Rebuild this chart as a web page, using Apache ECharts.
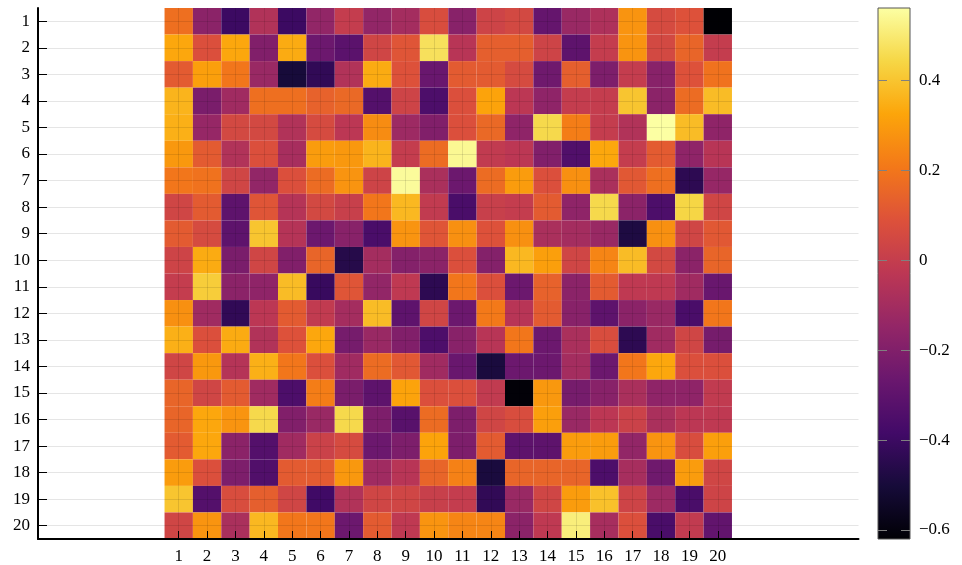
<!DOCTYPE html>
<html>
<head>
<meta charset="utf-8">
<script src="https://cdn.jsdelivr.net/npm/echarts@6/dist/echarts.min.js"></script>
<style>
  html, body { margin: 0; padding: 0; background: #fff; }
  #chart { width: 962px; height: 565px; }
</style>
</head>
<body>
<div id="chart"></div>
<script>
// heatmap columns / rows (row 1 at the top)
const cols = [1,2,3,4,5,6,7,8,9,10,11,12,13,14,15,16,17,18,19,20];
const rows = [1,2,3,4,5,6,7,8,9,10,11,12,13,14,15,16,17,18,19,20];

// cell values, one array per row
const values = [
  [0.18,-0.17,-0.40,-0.06,-0.40,-0.15,0.00,-0.15,-0.10,0.07,-0.18,0.03,0.05,-0.28,-0.13,-0.07,0.28,0.06,0.09,-0.62],
  [0.33,0.08,0.33,-0.20,0.34,-0.26,-0.31,0.04,0.10,0.47,-0.04,0.13,0.13,0.03,-0.30,0.00,0.28,0.05,0.15,0.00],
  [0.12,0.31,0.20,-0.13,-0.50,-0.43,-0.06,0.34,0.09,-0.27,0.12,0.12,0.06,-0.25,0.13,-0.21,0.00,-0.18,0.09,0.19],
  [0.36,-0.22,-0.11,0.18,0.18,0.14,0.16,-0.33,0.03,-0.35,0.08,0.32,-0.03,-0.16,0.00,0.00,0.40,-0.17,0.17,0.38],
  [0.35,-0.14,0.05,0.05,-0.06,0.06,-0.03,0.26,-0.12,-0.20,0.08,0.16,-0.16,0.45,0.22,0.00,-0.06,0.56,0.38,-0.16],
  [0.29,0.12,-0.06,0.08,-0.09,0.30,0.29,0.36,0.00,0.17,0.54,-0.01,-0.03,-0.20,-0.34,0.33,0.00,0.12,-0.16,-0.04],
  [0.20,0.19,0.04,-0.15,0.08,0.17,0.28,0.03,0.55,-0.08,-0.26,0.17,0.30,0.08,0.27,-0.08,0.11,0.18,-0.44,-0.14],
  [0.04,0.12,-0.30,0.10,-0.05,0.05,0.01,0.20,0.37,-0.01,-0.36,0.01,0.00,0.12,-0.16,0.45,-0.17,-0.35,0.44,0.04],
  [0.12,0.06,-0.30,0.40,-0.05,-0.26,-0.18,-0.36,0.28,0.10,0.27,0.09,0.27,-0.08,-0.10,-0.13,-0.48,0.27,0.04,0.11],
  [0.03,0.34,-0.22,0.04,-0.20,0.15,-0.46,-0.10,-0.19,-0.17,0.08,-0.19,0.37,0.31,0.04,0.24,0.38,0.05,-0.17,0.15],
  [0.00,0.42,-0.17,-0.16,0.38,-0.41,0.10,-0.15,-0.02,-0.44,0.20,0.08,-0.26,0.14,-0.17,0.12,-0.02,-0.02,-0.11,-0.27],
  [0.27,-0.11,-0.43,-0.03,0.12,-0.01,-0.10,0.38,-0.30,0.04,-0.26,0.21,-0.04,0.12,-0.18,-0.30,-0.17,-0.13,-0.36,0.20],
  [0.35,0.08,0.34,-0.06,0.09,0.33,-0.23,-0.13,-0.20,-0.35,-0.18,-0.04,0.20,-0.26,-0.08,0.07,-0.44,-0.11,0.04,-0.23],
  [0.04,0.29,-0.05,0.35,0.20,0.08,-0.11,0.17,0.11,-0.11,-0.27,-0.49,-0.26,-0.26,-0.10,-0.26,0.20,0.33,0.08,0.08],
  [0.15,0.04,0.12,-0.11,-0.35,0.22,-0.22,-0.30,0.32,0.08,0.08,-0.01,-0.61,0.29,-0.23,-0.18,-0.08,-0.16,-0.16,-0.01],
  [0.15,0.33,0.28,0.45,-0.20,-0.13,0.45,-0.21,-0.32,0.17,-0.21,0.04,0.07,0.31,-0.13,-0.03,0.02,-0.08,-0.03,-0.02],
  [0.12,0.33,-0.17,-0.33,-0.11,0.02,0.06,-0.26,-0.21,0.32,-0.21,0.12,-0.30,-0.30,0.30,0.30,-0.15,0.28,0.07,0.31],
  [0.30,0.08,-0.21,-0.34,0.12,0.12,0.29,-0.11,-0.04,0.15,0.23,-0.49,0.15,0.15,0.15,-0.35,-0.09,-0.25,0.30,0.04],
  [0.40,-0.33,0.07,0.13,0.04,-0.39,-0.06,0.04,0.04,0.01,0.00,-0.43,-0.13,0.04,0.30,0.39,0.03,-0.12,-0.36,0.03],
  [0.04,0.28,-0.08,0.37,0.20,0.20,-0.26,0.12,-0.02,0.28,0.24,0.24,-0.17,-0.02,0.51,-0.09,0.08,-0.36,-0.01,-0.29]
];

// colorbar
const cbMin = -0.62;
const cbMax = 0.561;
const cbTicks = [-0.6, -0.4, -0.2, 0, 0.2, 0.4];

// inferno
const inferno = ['#000004','#160b39','#420a68','#6a176e','#932667','#bc3754',
                 '#dd513a','#f37819','#fca50a','#f6d746','#fcffa4'];

const font = 'Liberation Serif';
const fontSize = 17;
const gridColor = 'rgba(0,0,0,0.1)';

const cells = [];
rows.forEach((r, i) => cols.forEach((c, j) => cells.push([c, r, values[i][j]])));

const chart = echarts.init(document.getElementById('chart'), null, { renderer: 'canvas' });

chart.setOption({
  animation: false,
  backgroundColor: '#fff',
  grid: [
    { left: 38, right: 103.5, top: 8, bottom: 25 },
    { left: 878, width: 32, top: 8, height: 531 }
  ],
  xAxis: [
    {
      gridIndex: 0, type: 'value', min: -3.96, max: 24.96, z: 3,
      axisLine: { onZero: false, lineStyle: { color: '#000', width: 2 } },
      axisTick: { inside: true, length: 8, customValues: cols, lineStyle: { color: '#000' } },
      axisLabel: { customValues: cols, margin: 9, color: '#000', fontFamily: font, fontSize: fontSize },
      splitLine: { show: true, lineStyle: { color: gridColor } }
    },
    { gridIndex: 1, type: 'value', min: 0, max: 1, show: false }
  ],
  yAxis: [
    {
      gridIndex: 0, type: 'value', min: 0.5, max: 20.5, inverse: true, z: 3,
      axisLine: { onZero: false, lineStyle: { color: '#000', width: 2 } },
      axisTick: { inside: true, length: 9, customValues: rows, lineStyle: { color: '#000' } },
      axisLabel: { customValues: rows, margin: 8, color: '#000', fontFamily: font, fontSize: fontSize },
      splitLine: { show: true, lineStyle: { color: gridColor } }
    },
    {
      gridIndex: 1, type: 'value', min: cbMin, max: cbMax, position: 'right', z: 3,
      axisLine: { show: false },
      axisTick: { show: false },
      axisLabel: {
        customValues: cbTicks, margin: 9, color: '#000', fontFamily: font, fontSize: fontSize,
        formatter: v => v === 0 ? '0' : (v < 0 ? '\u2212' + Math.abs(v).toFixed(1) : v.toFixed(1))
      },
      splitLine: { show: false }
    }
  ],
  visualMap: {
    show: false, type: 'continuous', seriesIndex: 0, dimension: 2,
    min: cbMin, max: cbMax, inRange: { color: inferno }
  },
  series: [
    {
      type: 'custom', xAxisIndex: 0, yAxisIndex: 0, z: 1,
      encode: { x: 0, y: 1 },
      data: cells,
      renderItem: (params, api) => {
        const a = api.coord([api.value(0) - 0.5, api.value(1) - 0.5]);
        const b = api.coord([api.value(0) + 0.5, api.value(1) + 0.5]);
        return {
          type: 'rect',
          shape: {
            x: Math.min(a[0], b[0]), y: Math.min(a[1], b[1]),
            width: Math.abs(b[0] - a[0]), height: Math.abs(b[1] - a[1])
          },
          style: { fill: api.visual('color') }
        };
      }
    },
    {
      // colour bar
      type: 'custom', xAxisIndex: 1, yAxisIndex: 1, z: 1,
      encode: { x: [0, 2], y: [1, 3] },
      data: [[0, cbMin, 1, cbMax]],
      renderItem: (params, api) => {
        const a = api.coord([api.value(0), api.value(1)]);
        const b = api.coord([api.value(2), api.value(3)]);
        return {
          type: 'rect',
          shape: { x: a[0], y: b[1], width: b[0] - a[0], height: a[1] - b[1] },
          style: {
            fill: new echarts.graphic.LinearGradient(0, 1, 0, 0,
              inferno.map((c, i) => ({ offset: i / (inferno.length - 1), color: c }))),
            stroke: '#555', lineWidth: 1
          }
        };
      }
    },
    {
      // colour bar ticks, inside both edges
      type: 'custom', xAxisIndex: 1, yAxisIndex: 1, z: 3,
      encode: { x: 0, y: 1 },
      data: cbTicks.map(v => [0, v]),
      renderItem: (params, api) => {
        const l = api.coord([0, api.value(1)]);
        const r = api.coord([1, api.value(1)]);
        const y = Math.round(l[1]) + 0.5;
        const st = { stroke: '#808080', lineWidth: 1 };
        return {
          type: 'group',
          children: [
            { type: 'line', shape: { x1: l[0], y1: y, x2: l[0] + 9, y2: y }, style: st },
            { type: 'line', shape: { x1: r[0] - 9, y1: y, x2: r[0], y2: y }, style: st }
          ]
        };
      }
    }
  ]
});
</script>
</body>
</html>
